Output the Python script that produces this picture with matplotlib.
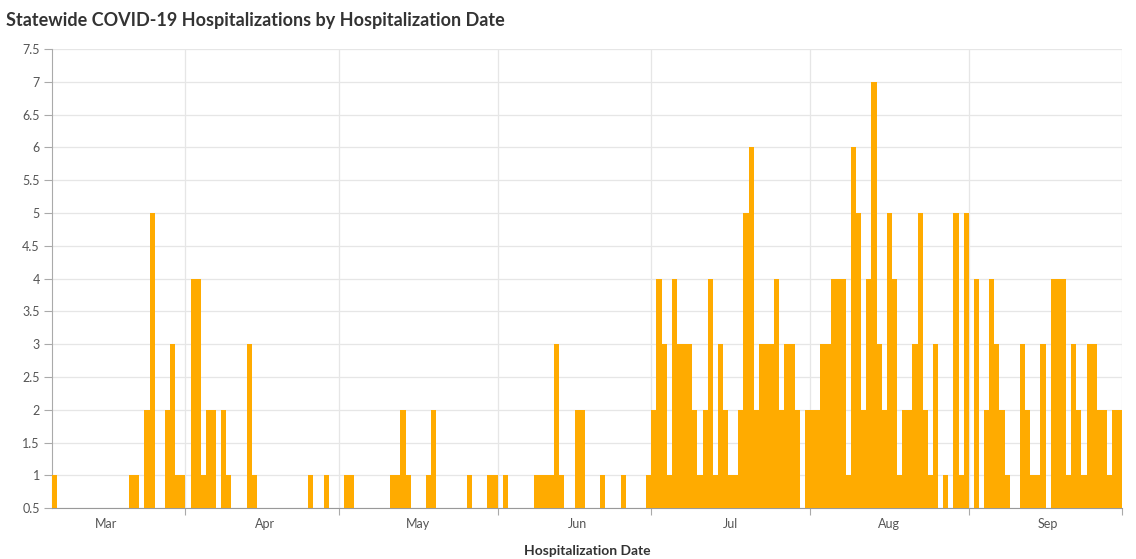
import datetime as dt
import matplotlib
matplotlib.use("Agg")
import matplotlib.pyplot as plt
import matplotlib.dates as mdates
from matplotlib.ticker import MultipleLocator, FuncFormatter, FixedLocator

plt.rcParams['font.family'] = ['Lato', 'DejaVu Sans']

# daily hospitalizations, first day shown is Mar 6
start_day = dt.date(2020, 3, 6)
mar_counts = [1, 0, 0, 0, 0, 0, 0, 0, 0, 0, 0, 0, 0, 0, 0, 1, 1, 0, 2, 5, 0, 0, 2, 3, 1, 1]
apr_counts = [0, 4, 4, 1, 2, 2, 0, 2, 1, 0, 0, 0, 3, 1, 0, 0, 0, 0, 0, 0, 0, 0, 0, 0, 1, 0, 0, 1, 0, 0]
may_counts = [0, 1, 1, 0, 0, 0, 0, 0, 0, 0, 1, 1, 2, 1, 0, 0, 0, 1, 2, 0, 0, 0, 0, 0, 0, 1, 0, 0, 0, 1, 1]
jun_counts = [0, 1, 0, 0, 0, 0, 0, 1, 1, 1, 1, 3, 1, 0, 0, 2, 2, 0, 0, 0, 1, 0, 0, 0, 1, 0, 0, 0, 0, 1]
jul_counts = [2, 4, 3, 1, 4, 3, 3, 3, 2, 1, 2, 4, 1, 3, 2, 1, 1, 2, 5, 6, 2, 3, 3, 3, 4, 2, 3, 3, 2, 0, 2]
aug_counts = [2, 2, 3, 3, 4, 4, 4, 1, 6, 5, 2, 4, 7, 3, 2, 5, 4, 1, 2, 2, 3, 5, 2, 1, 3, 0, 1, 0, 5, 1, 5]
sep_counts = [0, 4, 0, 2, 4, 3, 2, 1, 0, 0, 3, 2, 1, 1, 3, 0, 4, 4, 4, 1, 3, 2, 1, 3, 3, 2, 2, 1, 2, 2]

counts = mar_counts + apr_counts + may_counts + jun_counts + jul_counts + aug_counts + sep_counts
dates = [start_day + dt.timedelta(days=i) for i in range(len(counts))]
end_day = dates[-1] + dt.timedelta(days=1)

fig = plt.figure(figsize=(11.36, 5.59), dpi=100)
ax = fig.add_axes([0.046, 0.0907, 0.942, 0.8216])

ax.bar(dates, counts, width=1.0, align='edge', color='#ffab00', edgecolor='none', zorder=3)

ax.set_xlim(start_day, end_day)
ax.set_ylim(0.5, 7.5)

# month starts: gridlines + ticks, mid-month: labels
ax.xaxis.set_major_locator(mdates.MonthLocator())
ax.xaxis.set_major_formatter(plt.NullFormatter())
mid_months = [mdates.date2num(dt.datetime(2020, m, 16, 12)) for m in range(3, 10)]
ax.xaxis.set_minor_locator(FixedLocator(mid_months))
ax.xaxis.set_minor_formatter(mdates.DateFormatter('%b'))
ax.tick_params(axis='x', which='major', length=5, color='#aaaaaa', direction='out')
ax.tick_params(axis='x', which='minor', length=0, pad=7, labelsize=9, labelcolor='#555555')

ax.yaxis.set_major_locator(MultipleLocator(0.5))
ax.yaxis.set_major_formatter(FuncFormatter(lambda v, p: f"{v:g}"))
ax.tick_params(axis='y', length=6, color='#aaaaaa', labelsize=9, labelcolor='#555555', pad=3)

ax.grid(True, which='major', color='#e6e6e6', linewidth=0.9, zorder=0)
ax.set_axisbelow(True)

for side in ['top', 'right']:
    ax.spines[side].set_visible(False)
ax.spines['left'].set_color('#aaaaaa')
ax.spines['bottom'].set_color('#999999')

ax.set_xlabel('Hospitalization Date', fontsize=10, fontweight='bold', color='#333333', labelpad=11)
fig.text(0.005, 0.978, 'Statewide COVID-19 Hospitalizations by Hospitalization Date',
         fontsize=13, fontweight='bold', color='#333333', va='top', ha='left')

fig.savefig('out.png', dpi=100)
